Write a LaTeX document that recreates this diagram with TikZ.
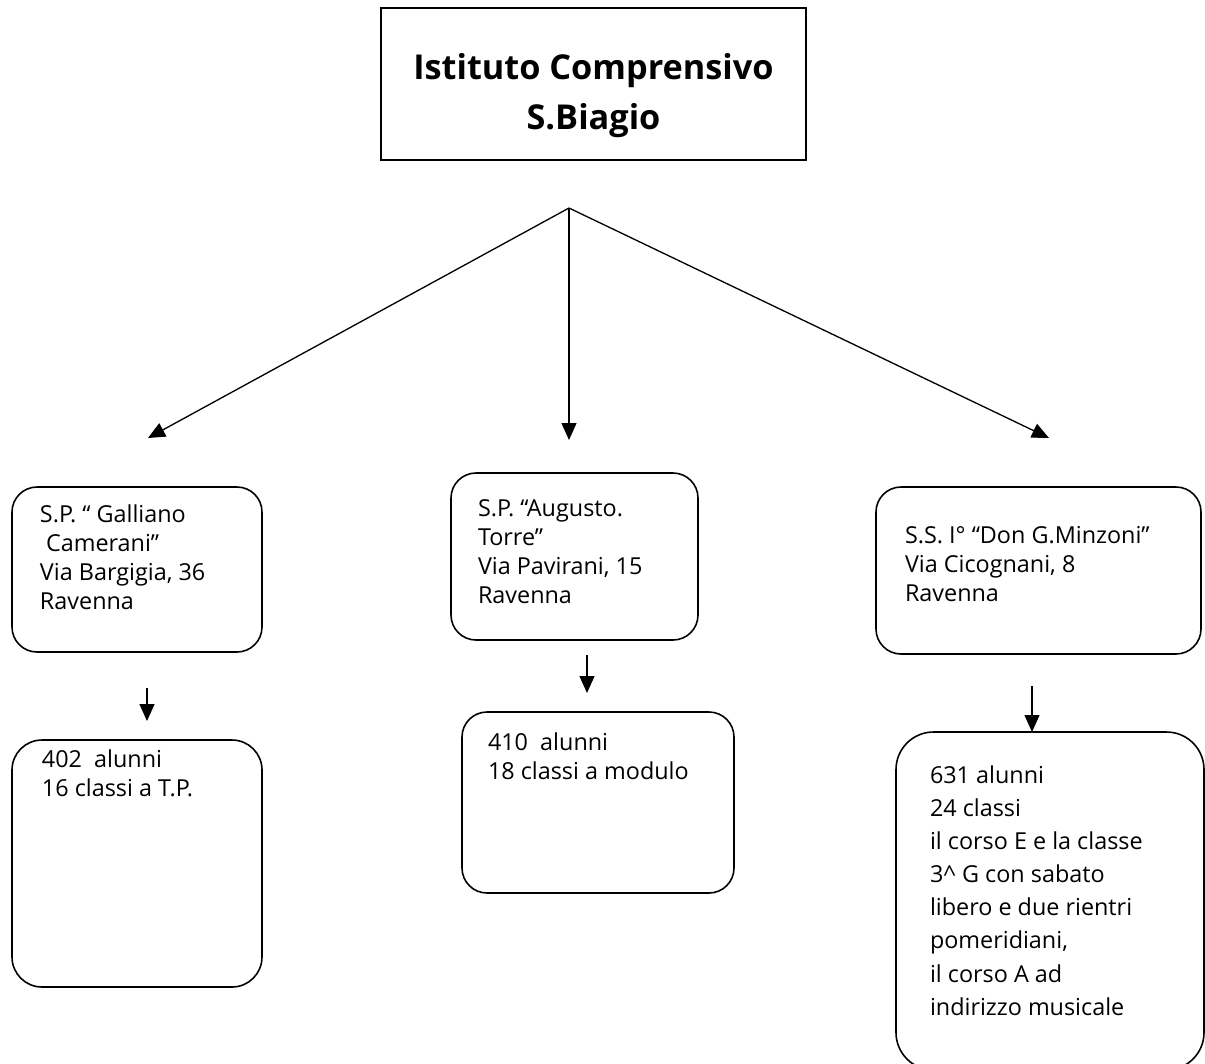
\documentclass[tikz,border=0pt]{standalone}
\usepackage{fontspec}
\setmainfont{Open Sans}
\usetikzlibrary{arrows.meta, positioning}
\tikzset{
  titlebox/.style={
    rectangle, draw, line width=0.9pt,
    inner xsep=0pt, inner ysep=0.9cm,
    font=\fontsize{19.5}{28.5}\selectfont\bfseries
  },
  sedebox/.style={
    rectangle, draw, line width=0.9pt, rounded corners=#1,
    inner sep=0pt,
    font=\fontsize{13.3}{16.5}\selectfont
  },
  linkarrow/.style={-{Triangle[length=0.34cm,width=0.3cm]}, line width=0.75pt},
}
\newcommand{\sedetext}[3]{\parbox[c][#1][t]{#2}{\raggedright #3}}

\begin{document}
\begin{tikzpicture}
    \useasboundingbox (0,0) rectangle (24.1,-21.26);
    \node[titlebox] (ic) at (11.87,-1.68)
         {\sedetext{1.24cm}{8.5cm}{\centering Istituto Comprensivo\\S.Biagio}};

    \coordinate (fork) at (11.38,-4.16);
    \coordinate (endL) at (2.96,-8.76);
    \coordinate (endM) at (11.38,-8.8);
    \coordinate (endR) at (20.98,-8.76);
    \draw[linkarrow] (fork) -- (endL);
    \draw[linkarrow] (fork) -- (endM);
    \draw[linkarrow] (fork) -- (endR);

    \node[sedebox=0.5cm, inner xsep=0.56cm, inner ysep=0.36cm] (galliano) at (2.74,-11.39)
         {\sedetext{2.58cm}{3.88cm}{S.P. `` Galliano\\ \ Camerani''\\Via Bargigia, 36\\Ravenna}};
    \node[sedebox=0.5cm, inner xsep=0.54cm, inner ysep=0.54cm] (torre) at (11.49,-11.13)
         {\sedetext{2.26cm}{3.86cm}{S.P. ``Augusto.\\Torre''\\Via Pavirani, 15\\Ravenna}};
    \node[sedebox=0.5cm, inner xsep=0.58cm, inner ysep=0.78cm] (minzoni) at (20.77,-11.41)
         {\sedetext{1.78cm}{5.34cm}{S.S. I° ``Don G.Minzoni''\\Via Cicognani, 8\\Ravenna}};

    \coordinate (gtop) at (2.94,-13.76);
    \coordinate (gbot) at (2.94,-14.42);
    \coordinate (ttop) at (11.74,-13.1);
    \coordinate (tbot) at (11.74,-13.86);
    \coordinate (mtop) at (20.64,-13.72);
    \coordinate (mbot) at (20.64,-14.64);
    \draw[linkarrow] (gtop) -- (gbot);
    \draw[linkarrow] (ttop) -- (tbot);
    \draw[linkarrow] (mtop) -- (mbot);

    \node[sedebox=0.6cm, inner xsep=0.6cm, inner ysep=0.2cm] (gnum) at (2.74,-17.27)
         {\sedetext{4.54cm}{3.8cm}{402\ \ alunni\\16 classi a T.P.}};
    \node[sedebox=0.5cm, inner xsep=0.52cm, inner ysep=0.42cm] (tnum) at (11.96,-16.05)
         {\sedetext{2.78cm}{4.4cm}{410\ \ alunni\\18 classi a modulo}};
    \node[sedebox=0.75cm, inner xsep=0.68cm, inner ysep=0.68cm,
          font=\fontsize{13.3}{18.8}\selectfont] (mnum) at (21.0,-18.02)
         {\sedetext{5.4cm}{4.8cm}{631 alunni\\24 classi\\il corso E e la classe\\3\^{} G con sabato\\libero e due rientri\\pomeridiani,\\il corso A ad\\indirizzo musicale}};
\end{tikzpicture}
\end{document}
